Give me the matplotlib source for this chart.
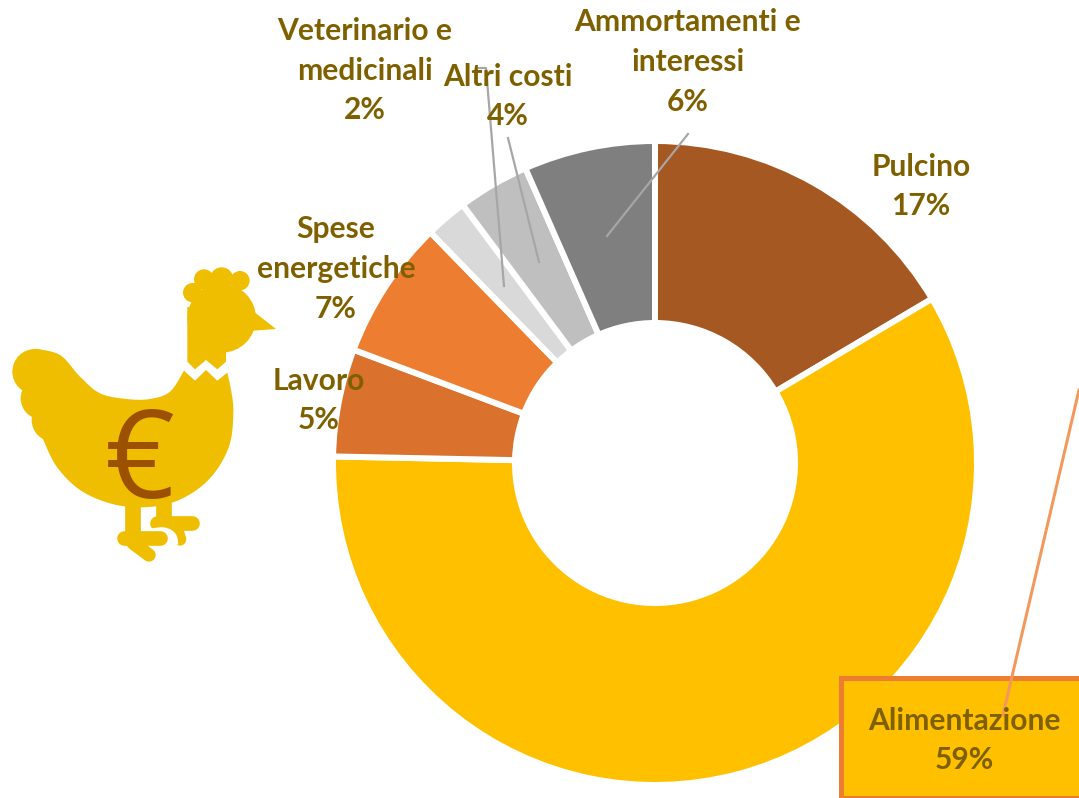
import numpy as np
import matplotlib
matplotlib.use('Agg')
import matplotlib.pyplot as plt
from matplotlib.patches import Circle, Polygon, Rectangle

# slices, clockwise from 12 o'clock
categories = ['Pulcino', 'Alimentazione', 'Lavoro', 'Spese\nenergetiche',
              'Veterinario e\nmedicinali', 'Altri costi', 'Ammortamenti e\ninteressi']
shares = [16.5, 58.9, 5.4, 7.0, 2.1, 3.6, 6.6]
shown_pct = [17, 59, 5, 7, 2, 4, 6]
colors = ['#A65822', '#FFC000', '#DA712D', '#ED7D31', '#D9D9D9', '#BFBFBF', '#7F7F7F']

W, H = 1079, 798
TEXT = '#7F6000'
YEL = '#F0BE00'

fig = plt.figure(figsize=(W / 100, H / 100), dpi=100)
ax = fig.add_axes([0, 0, 1, 1])


def yy(py):
    return H - py


def px(x, y):
    return x, H - y


def lw(p):
    return p * 0.72


def smooth(pts, n=8):
    # catmull-rom through the given points, open ended
    pts = np.array(pts, float)
    p = np.vstack([pts[0], pts, pts[-1]])
    out = []
    for i in range(1, len(p) - 2):
        for t in np.linspace(0, 1, n, endpoint=False):
            out.append(0.5 * (2 * p[i] + (p[i + 1] - p[i - 1]) * t
                              + (2 * p[i - 1] - 5 * p[i] + 4 * p[i + 1] - p[i + 2]) * t ** 2
                              + (3 * p[i] - p[i - 1] - 3 * p[i + 1] + p[i + 2]) * t ** 3))
    out.append(pts[-1])
    return np.array(out)


def hen(pts):
    a = np.array(pts, float)
    return np.column_stack([a[:, 0] / 3, H - (250 + a[:, 1] / 3)])


# donut
wedges, _ = ax.pie(shares, colors=colors, startangle=90, counterclock=False,
                   center=(655, yy(463)), radius=322,
                   wedgeprops=dict(width=182, edgecolor='white', linewidth=lw(6)))
ax.set_xlim(0, W)
ax.set_ylim(0, H)
ax.set_aspect('equal')
ax.axis('off')

# feed box
ax.add_patch(Rectangle(px(841, 798), 260, 120, facecolor='#FFC000', edgecolor='#ED7D31',
                       linewidth=lw(5), zorder=3))

# leader lines
leaders = [([479, 486, 504], [68, 68, 286]),
           ([508, 539], [138, 262]),
           ([688, 607], [134, 236])]
for lx, ly in leaders:
    ax.plot(lx, [yy(v) for v in ly], color='#A6A6A6', lw=lw(2.2), zorder=4)
ax.plot([1003, 1079], [yy(715), yy(390)], color='#F4975A', lw=lw(3), zorder=4)

# labels
centers = [(921, 186.5), (964, 740.5), (319, 400.5), (336, 269),
           (365, 70.5), (508, 96.5), (688, 62)]
for name, pct, (cx, cy) in zip(categories, shown_pct, centers):
    ax.text(cx, yy(cy), f'{name}\n{pct}%', ha='center', va='center', ma='center',
            family='Lato', weight='bold', fontsize=21.6, color=TEXT, linespacing=1.52, zorder=5)

# chicken body
outline = np.vstack([
    smooth([(105, 296), (180, 315), (240, 380), (300, 430), (380, 447), (450, 447),
            (510, 425), (552, 362)]),
    [(585, 392), (618, 360), (652, 392), (682, 368)],
    smooth([(682, 368), (695, 430), (700, 490), (690, 580), (650, 660), (590, 720),
            (510, 760), (420, 772), (330, 760), (240, 720), (170, 650), (130, 570)]),
    [(105, 365)],
])
ax.add_patch(Polygon(hen(outline), closed=True, facecolor=YEL, edgecolor='none', zorder=6))

# neck and head
neck = [(562, 170), (562, 335), (585, 358), (618, 330), (652, 358), (678, 335), (678, 200)]
ax.add_patch(Polygon(hen(neck), closed=True, facecolor=YEL, edgecolor='none', zorder=6))
ax.add_patch(Polygon(hen([(755, 180), (828, 237), (760, 242)]), closed=True,
                     facecolor=YEL, edgecolor='none', zorder=6))
blobs = [(665, 205, 103), (612, 88, 30), (665, 87, 35), (720, 92, 29), (578, 128, 29),
         (650, 130, 45), (105, 365, 68), (125, 445, 63), (160, 510, 65)]
for zx, zy, zr in blobs:
    cxy = hen([(zx, zy)])[0]
    ax.add_patch(Circle(cxy, zr / 3, facecolor=YEL, edgecolor='none', zorder=6))


def stroke(pts, width, color=YEL, z=6, cap='round'):
    a = hen(pts)
    ax.plot(a[:, 0], a[:, 1], color=color, lw=lw(width / 3), solid_capstyle=cap,
            solid_joinstyle='round', zorder=z)


# back leg, then the white gap, then front leg
stroke([(492, 760), (492, 815)], 47, cap='butt')
stroke([(470, 820), (575, 820)], 44)
stroke([(530, 835), (540, 868)], 38)
stroke(smooth([(422, 775), (422, 843), (490, 843), (518, 858), (524, 885)]), 22, color='white', cap='butt', z=6.5)
stroke([(399, 765), (399, 860)], 47, z=7, cap='butt')
stroke([(373, 865), (480, 865)], 44, z=7)
stroke([(400, 880), (447, 915)], 40, z=7)

ax.text(140, yy(466), '\u20ac', ha='center', va='center', family='Open Sans', weight='normal',
        fontsize=88, color='#9C5100', zorder=8)

fig.savefig('out.png', dpi=100)
